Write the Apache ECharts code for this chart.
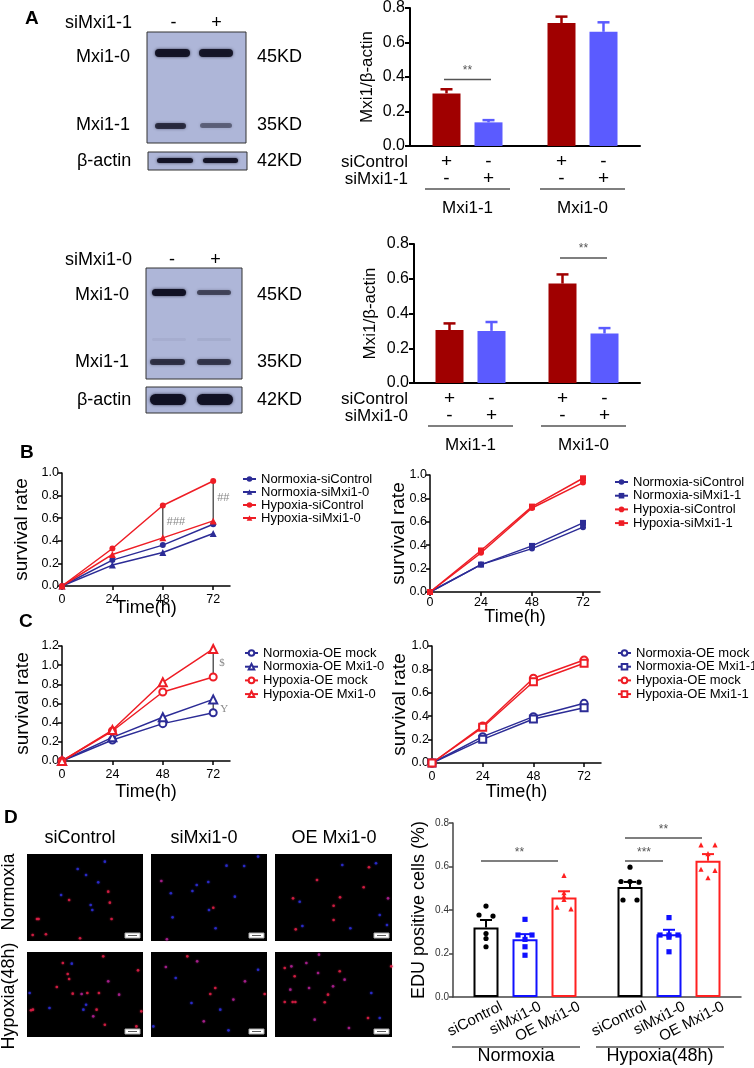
<!DOCTYPE html>
<html lang="en">
<head>
<meta charset="UTF-8">
<title>Mxi1 knockdown / overexpression</title>
<script src="https://cdn.jsdelivr.net/npm/echarts@6/dist/echarts.min.js"></script>
<style>
  html, body { margin: 0; padding: 0; background: #fff; }
  #main { width: 754px; height: 1068px; }
</style>
</head>
<body>
<div id="main"></div>
<script>
// ---------- data ----------
// A: western blot quantification, Mxi1/β-actin (mean and SEM)
var wbGroups = ['Mxi1-1', 'Mxi1-0'];
var wb1Control = [0.305, 0.713];
var wb1ControlSem = [0.024, 0.037];
var wb1Si = [0.137, 0.662];
var wb1SiSem = [0.013, 0.055];
var wb2Control = [0.305, 0.572];
var wb2ControlSem = [0.038, 0.053];
var wb2Si = [0.300, 0.285];
var wb2SiSem = [0.051, 0.031];

// B / C: survival rate over time
var hours = [0, 24, 48, 72];
var bLeftNormCtrl = [0, 0.229, 0.362, 0.547];
var bLeftNormSi = [0, 0.185, 0.297, 0.465];
var bLeftHypCtrl = [0, 0.332, 0.712, 0.929];
var bLeftHypSi = [0, 0.279, 0.426, 0.576];
var bRightNormCtrl = [0, 0.234, 0.371, 0.554];
var bRightNormSi = [0, 0.234, 0.394, 0.591];
var bRightHypCtrl = [0, 0.335, 0.718, 0.935];
var bRightHypSi = [0, 0.355, 0.730, 0.972];
var cLeftNormMock = [0, 0.219, 0.390, 0.504];
var cLeftNormOE = [0, 0.247, 0.456, 0.643];
var cLeftHypMock = [0, 0.313, 0.720, 0.877];
var cLeftHypOE = [0, 0.323, 0.821, 1.169];
var cRightNormMock = [0, 0.225, 0.396, 0.510];
var cRightNormOE = [0, 0.202, 0.376, 0.473];
var cRightHypMock = [0, 0.316, 0.724, 0.880];
var cRightHypOE = [0, 0.305, 0.695, 0.852];

// D: EDU positive cells
var eduGroups = ['Normoxia', 'Hypoxia(48h)'];
var eduNames = ['siControl', 'siMxi1-0', 'OE Mxi1-0'];
var eduMeanSiControl = [0.320, 0.506];
var eduMeanSiMxi = [0.266, 0.288];
var eduMeanOE = [0.458, 0.626];
var eduSemSiControl = [0.034, 0.023];
var eduSemSiMxi = [0.023, 0.021];
var eduSemOE = [0.028, 0.031];
var eduPtsSiControl = [[0.418, 0.372, 0.377, 0.292, 0.269, 0.231], [0.597, 0.528, 0.531, 0.531, 0.446, 0.446]];
var eduPtsSiMxi = [[0.357, 0.285, 0.285, 0.265, 0.231, 0.192], [0.365, 0.285, 0.285, 0.285, 0.275, 0.208]];
var eduPtsOE = [[0.557, 0.477, 0.462, 0.446, 0.403, 0.411], [0.697, 0.697, 0.657, 0.580, 0.585, 0.546]];

// D: fluorescence field dots [x%, y%, kind] kind 0 red, 1 blue, 2 magenta
var fieldNormCtrl = [[8.6,74.7,0],[10,74.7,0],[36.3,52.9,0],[29.4,47.1,1],[70,43.3,0],[71.4,55.9,0],[56.3,64.4,1],[54.9,58.6,1],[61.4,32.6,1],[72.9,74.7,0],[45.7,96.9,0],[16.3,92.3,0],[4.9,93.1,0],[67.1,8.8,1],[43.7,17.2,1],[50.9,24.1,1]];
var fieldNormSi = [[8.9,31,2],[17.1,45.2,1],[18.6,72.8,1],[35.7,42.5,1],[49.4,32.2,1],[53.7,61.7,0],[50,64.4,1],[55.7,85.4,1],[72.3,49,1],[80.3,13.8,1],[92.3,3,1],[13.7,98,2],[65.1,13.4,1],[39.4,35.6,1]];
var fieldNormOE = [[57.5,12.6,1],[80.3,15.3,0],[35.9,29.9,0],[96.6,51,2],[50.1,59.4,0],[55.6,49.8,0],[75.8,38.3,0],[15.4,51,0],[21.1,54.8,1],[17.7,86.6,0],[23.4,82.8,1],[50.1,75.9,0],[64.4,85.4,1],[89.5,70.1,1],[95.7,81.6,1],[86.3,10.7,1]];
var fieldHypCtrl = [[30.9,12.9,0],[38.6,13.7,1],[35.1,25.9,0],[36.3,31.8,0],[25.7,41.2,0],[47.1,49.4,2],[52,48.2,0],[39.4,49,0],[62,48.2,0],[70,34.5,2],[65.7,5.1,0],[95.7,21.6,0],[79.4,50.2,2],[2.3,48.2,1],[3.4,68.6,0],[5.1,67.8,0],[19.4,65.9,1],[48.6,67.8,1],[60,67.8,0],[67.1,85.5,0],[94.3,87.5,0],[98.6,69.8,0],[57.1,75.7,2],[50.9,62,1]];
var fieldHypSi = [[12.8,17.6,2],[31.3,5.1,0],[39.8,11,2],[21.3,30.6,1],[51.1,49.4,0],[55.4,42.4,0],[34.9,60,1],[59.7,67.8,1],[66.8,92.2,1],[81,34.5,2],[98,49.4,0],[92.3,20.8,1],[2,87.5,1],[71,56,2],[45.5,81.6,2]];
var fieldHypOE = [[8.3,18.8,0],[14,16.9,2],[16.8,28.6,0],[13.1,44.3,2],[8.3,58.8,0],[15.1,58.8,0],[17.4,58.8,0],[29.1,42.4,2],[26.8,12.9,2],[36.8,24.7,2],[55.3,22.7,0],[59.5,32.5,2],[42.5,59.2,0],[45.3,50.2,0],[49.6,40.4,2],[79.5,77.6,0],[63.2,89.4,2],[33.9,79.6,2],[99.4,16.9,0],[82.3,48.2,1],[89.5,77.6,1],[37.6,3.1,2]];

// ---------- styles ----------
var FONT = '"Liberation Sans", Arial, Helvetica, sans-serif';
var SERIF = '"Liberation Serif", "DejaVu Serif", serif';
var BLUE = '#2c2c96';
var RED = '#ee1d25';
var WB_RED = '#a00000';
var WB_BLUE = '#5b5bff';
var EDU_COLORS = ['#000000', '#1010ff', '#ff2020'];
var DOT_COLORS = ['#e8204a', '#3030e0', '#b8229a'];

var grids = [], xAxes = [], yAxes = [], series = [], legends = [];

function addGrid(box) {
  grids.push(Object.assign({ containLabel: false }, box));
  return grids.length - 1;
}

// error bar drawn upward from the mean, shifted to its bar
function errSeries(gi, means, sems, offset, color, cap, lw) {
  return {
    type: 'custom', xAxisIndex: gi, yAxisIndex: gi, z: 4, silent: true,
    data: means.map(function (m, i) { return [i, m, m + sems[i]]; }),
    encode: { x: 0, y: [1, 2] },
    renderItem: function (params, api) {
      var base = api.coord([api.value(0), api.value(1)]);
      var top = api.coord([api.value(0), api.value(2)]);
      var x = base[0] + offset;
      return {
        type: 'group', children: [
          { type: 'line', shape: { x1: x, y1: base[1], x2: x, y2: top[1] }, style: { stroke: color, lineWidth: lw } },
          { type: 'line', shape: { x1: x - cap, y1: top[1], x2: x + cap, y2: top[1] }, style: { stroke: color, lineWidth: lw } }
        ]
      };
    }
  };
}

function wbChart(box, ctrl, ctrlSem, si, siSem, nameGap) {
  var gi = addGrid(box);
  xAxes.push({
    gridIndex: gi, type: 'category', data: wbGroups,
    axisLine: { lineStyle: { color: '#000', width: 2 } },
    axisTick: { show: false }, axisLabel: { show: false }
  });
  yAxes.push({
    gridIndex: gi, type: 'value', min: 0, max: 0.8, interval: 0.2,
    name: 'Mxi1/β-actin', nameLocation: 'middle', nameGap: nameGap, nameMoveOverlap: false,
    nameTextStyle: { fontSize: 17, color: '#000' },
    axisLine: { show: true, lineStyle: { color: '#000', width: 2 } },
    axisTick: { show: true, length: 5, lineStyle: { color: '#000', width: 2 } },
    axisLabel: { fontSize: 16, color: '#000', margin: 5, formatter: function (v) { return v.toFixed(1); } },
    splitLine: { show: false }
  });
  series.push({ type: 'bar', xAxisIndex: gi, yAxisIndex: gi, data: ctrl, barWidth: 28, barGap: '50%', itemStyle: { color: WB_RED } });
  series.push({ type: 'bar', xAxisIndex: gi, yAxisIndex: gi, data: si, barWidth: 28, barGap: '50%', itemStyle: { color: WB_BLUE } });
  series.push(errSeries(gi, ctrl, ctrlSem, -21, WB_RED, 6, 2.5));
  series.push(errSeries(gi, si, siSem, 21, WB_BLUE, 6, 2.5));
  return gi;
}

function survivalChart(box, yMax, gapY, gapX, labelMargin, defs, legendPos) {
  var gi = addGrid(box);
  xAxes.push({
    gridIndex: gi, type: 'value', min: 0, max: 80,
    name: 'Time(h)', nameLocation: 'middle', nameGap: gapX, nameMoveOverlap: false,
    nameTextStyle: { fontSize: 18, color: '#000' },
    axisLine: { lineStyle: { color: '#000', width: 1.5 } },
    axisTick: { show: true, customValues: hours, length: 4, lineStyle: { color: '#000', width: 1.5 } },
    axisLabel: { customValues: hours, fontSize: 12.5, color: '#000', margin: labelMargin },
    splitLine: { show: false }
  });
  yAxes.push({
    gridIndex: gi, type: 'value', min: 0, max: yMax, interval: 0.2,
    name: 'survival rate', nameLocation: 'middle', nameGap: gapY, nameMoveOverlap: false,
    nameTextStyle: { fontSize: 19, color: '#000' },
    axisLine: { show: true, lineStyle: { color: '#000', width: 1.5 } },
    axisTick: { show: true, length: 4, lineStyle: { color: '#000', width: 1.5 } },
    axisLabel: { fontSize: 12.5, color: '#000', margin: 3, formatter: function (v) { return v.toFixed(1); } },
    splitLine: { show: false }
  });
  defs.forEach(function (d) {
    series.push({
      type: 'line', name: d.name, xAxisIndex: gi, yAxisIndex: gi,
      data: hours.map(function (h, i) { return [h, d.values[i]]; }),
      symbol: d.symbol, symbolSize: d.size, color: d.color,
      lineStyle: { width: 1.5, color: d.color },
      itemStyle: { color: d.color, borderWidth: 1.5 }
    });
  });
  legends.push({
    orient: 'vertical', left: legendPos[0], top: legendPos[1], padding: 0,
    itemGap: legendPos[2], itemWidth: 13, itemHeight: 7, selectedMode: false,
    textStyle: { fontSize: 13, color: '#000', lineHeight: 13, fontFamily: FONT },
    data: defs.map(function (d) { return d.name; })
  });
  return gi;
}

// simple swarm: points with (nearly) equal values sit side by side
function swarmOffsets(vals) {
  var order = vals.map(function (v, i) { return i; }).sort(function (a, b) { return vals[b] - vals[a]; });
  var off = vals.map(function () { return 0; });
  var i = 0;
  while (i < order.length) {
    var j = i;
    while (j + 1 < order.length && vals[order[i]] - vals[order[j + 1]] < 0.009) j++;
    var n = j - i + 1, step = n === 2 ? 14 : 9;
    for (var k = i; k <= j; k++) off[order[k]] = (k - i - (n - 1) / 2) * step;
    i = j + 1;
  }
  return off;
}

// ---------- A ----------
var gA1 = wbChart({ left: 410, top: 7, width: 230, height: 139 }, wb1Control, wb1ControlSem, wb1Si, wb1SiSem, 34);
var gA2 = wbChart({ left: 414, top: 244, width: 226, height: 139 }, wb2Control, wb2ControlSem, wb2Si, wb2SiSem, 35);

// ---------- B ----------
var gB1 = survivalChart({ left: 62, top: 473, width: 168, height: 113 }, 1.0, 31, 13, 7, [
  { name: 'Normoxia-siControl', values: bLeftNormCtrl, symbol: 'circle', size: 6, color: BLUE },
  { name: 'Normoxia-siMxi1-0', values: bLeftNormSi, symbol: 'triangle', size: 7, color: BLUE },
  { name: 'Hypoxia-siControl', values: bLeftHypCtrl, symbol: 'circle', size: 6, color: RED },
  { name: 'Hypoxia-siMxi1-0', values: bLeftHypSi, symbol: 'triangle', size: 7, color: RED }
], [242, 472.5, 0]);
var gB2 = survivalChart({ left: 430, top: 475, width: 170, height: 117 }, 1.0, 22, 16, 4, [
  { name: 'Normoxia-siControl', values: bRightNormCtrl, symbol: 'circle', size: 6, color: BLUE },
  { name: 'Normoxia-siMxi1-1', values: bRightNormSi, symbol: 'rect', size: 6, color: BLUE },
  { name: 'Hypoxia-siControl', values: bRightHypCtrl, symbol: 'circle', size: 6, color: RED },
  { name: 'Hypoxia-siMxi1-1', values: bRightHypSi, symbol: 'rect', size: 6, color: RED }
], [614, 475.5, 0.7]);

// ---------- C ----------
var gC1 = survivalChart({ left: 62, top: 646, width: 168, height: 115 }, 1.2, 30, 22, 7, [
  { name: 'Normoxia-OE mock', values: cLeftNormMock, symbol: 'emptyCircle', size: 7, color: BLUE },
  { name: 'Normoxia-OE Mxi1-0', values: cLeftNormOE, symbol: 'emptyTriangle', size: 8, color: BLUE },
  { name: 'Hypoxia-OE mock', values: cLeftHypMock, symbol: 'emptyCircle', size: 7, color: RED },
  { name: 'Hypoxia-OE Mxi1-0', values: cLeftHypOE, symbol: 'emptyTriangle', size: 8, color: RED }
], [244, 646.5, 0.7]);
var gC2 = survivalChart({ left: 432, top: 646, width: 169, height: 117 }, 1.0, 23, 20, 7, [
  { name: 'Normoxia-OE mock', values: cRightNormMock, symbol: 'emptyCircle', size: 7, color: BLUE },
  { name: 'Normoxia-OE Mxi1-1', values: cRightNormOE, symbol: 'emptyRect', size: 7, color: BLUE },
  { name: 'Hypoxia-OE mock', values: cRightHypMock, symbol: 'emptyCircle', size: 7, color: RED },
  { name: 'Hypoxia-OE Mxi1-1', values: cRightHypOE, symbol: 'emptyRect', size: 7, color: RED }
], [617, 646.5, 0.7]);

// ---------- D bar + dots ----------
var gD = addGrid({ left: 453, top: 823, width: 288, height: 174 });
xAxes.push({
  gridIndex: gD, type: 'category', data: eduGroups,
  axisLine: { lineStyle: { color: '#444', width: 1.5 } },
  axisTick: { show: false }, axisLabel: { show: false }
});
yAxes.push({
  gridIndex: gD, type: 'value', min: 0, max: 0.8, interval: 0.2,
  name: 'EDU positive cells (%)', nameLocation: 'middle', nameGap: 25, nameMoveOverlap: false,
  nameTextStyle: { fontSize: 18, color: '#000' },
  axisLine: { show: true, lineStyle: { color: '#444', width: 1.5 } },
  axisTick: { show: true, length: 4, lineStyle: { color: '#444', width: 1.5 } },
  axisLabel: { fontSize: 10, color: '#333', margin: 4, formatter: function (v) { return v.toFixed(1); } },
  splitLine: { show: false }
});
var eduMeans = [eduMeanSiControl, eduMeanSiMxi, eduMeanOE];
var eduSems = [eduSemSiControl, eduSemSiMxi, eduSemOE];
var eduPts = [eduPtsSiControl, eduPtsSiMxi, eduPtsOE];
var EDU_STEP = 39; // bar width 25 + gap 14
eduMeans.forEach(function (m, s) {
  series.push({
    type: 'bar', name: eduNames[s], xAxisIndex: gD, yAxisIndex: gD, data: m,
    barWidth: 25, barGap: '56%',
    itemStyle: { color: '#fff', borderColor: EDU_COLORS[s], borderWidth: 2 }
  });
});
eduPts.forEach(function (groups, s) {
  var data = [];
  groups.forEach(function (vals, c) {
    var off = swarmOffsets(vals);
    vals.forEach(function (v, k) { data.push([c, v, off[k]]); });
  });
  series.push({
    type: 'custom', xAxisIndex: gD, yAxisIndex: gD, z: 5, silent: true,
    data: data, encode: { x: 0, y: 1 },
    renderItem: function (params, api) {
      var p = api.coord([api.value(0), api.value(1)]);
      var x = p[0] + (s - 1) * EDU_STEP + api.value(2);
      var r = 2.6;
      if (s === 0) return { type: 'circle', shape: { cx: x, cy: p[1], r: r }, style: { fill: EDU_COLORS[s] } };
      if (s === 1) return { type: 'rect', shape: { x: x - r, y: p[1] - r, width: 2 * r, height: 2 * r }, style: { fill: EDU_COLORS[s] } };
      return { type: 'polygon', shape: { points: [[x, p[1] - r - 0.5], [x - r, p[1] + r - 0.5], [x + r, p[1] + r - 0.5]] }, style: { fill: EDU_COLORS[s] } };
    }
  });
  series.push(errSeries(gD, eduMeans[s], eduSems[s], (s - 1) * EDU_STEP, EDU_COLORS[s], 6, 2));
});

// ---------- D fluorescence fields ----------
var fieldCols = [[27, 116], [151, 116], [275, 117]];
var fieldRows = [[854, 87], [952, 85]];
var fields = [[fieldNormCtrl, fieldNormSi, fieldNormOE], [fieldHypCtrl, fieldHypSi, fieldHypOE]];
fields.forEach(function (row, r) {
  row.forEach(function (dots, c) {
    var gi = addGrid({ left: fieldCols[c][0], top: fieldRows[r][0], width: fieldCols[c][1], height: fieldRows[r][1], show: true, backgroundColor: '#000', borderWidth: 0 });
    xAxes.push({ gridIndex: gi, type: 'value', min: 0, max: 100, show: false });
    yAxes.push({ gridIndex: gi, type: 'value', min: 0, max: 100, inverse: true, show: false });
    series.push({
      type: 'scatter', xAxisIndex: gi, yAxisIndex: gi, symbolSize: 2.6, silent: true,
      data: dots.map(function (d) {
        return { value: [d[0], d[1]], itemStyle: { color: DOT_COLORS[d[2]], shadowBlur: 2, shadowColor: DOT_COLORS[d[2]] } };
      })
    });
  });
});

var option = {
  animation: false,
  textStyle: { fontFamily: FONT },
  grid: grids, xAxis: xAxes, yAxis: yAxes, legend: legends, series: series
};

var chart = echarts.init(document.getElementById('main'));
chart.setOption(option);

// ---------- annotations placed through the axes ----------
var g = [];
function px(gi, x, y) { return chart.convertToPixel({ xAxisIndex: gi, yAxisIndex: gi }, [x, y]); }
function txt(x, y, s, o, extra) {
  g.push(Object.assign({
    type: 'text', x: x, y: y, silent: true,
    style: Object.assign({ text: s, fill: '#000', fontSize: 18, fontFamily: FONT, align: 'left', verticalAlign: 'middle' }, o || {})
  }, extra || {}));
}
function seg(x1, y1, x2, y2, color, w) {
  g.push({ type: 'line', silent: true, shape: { x1: x1, y1: y1, x2: x2, y2: y2 }, style: { stroke: color, lineWidth: w } });
}
function box(x, y, w, h, fill, stroke) {
  g.push({ type: 'rect', silent: true, shape: { x: x, y: y, width: w, height: h }, style: { fill: fill, stroke: stroke || null, lineWidth: 1 } });
}
function band(x, y, w, h, alpha) {
  g.push({ type: 'rect', silent: true, shape: { x: x, y: y, width: w, height: h, r: h / 2 },
    style: { fill: 'rgba(16,16,34,' + alpha + ')', shadowBlur: 3, shadowColor: 'rgba(16,16,34,' + alpha * 0.8 + ')' } });
}

// panel letters
[['A', 25, 19], ['B', 20, 453], ['C', 19, 622], ['D', 4, 818]].forEach(function (l) {
  txt(l[1], l[2], l[0], { fontSize: 19, fontWeight: 'bold' });
});

// western blots
var BLOT = '#aeb6d8';
txt(65, 23, 'siMxi1-1');
txt(173.5, 23, '-', { align: 'center' });
txt(216.5, 23, '+', { align: 'center' });
box(147, 32, 99, 111, BLOT, '#333');
band(155, 49, 35, 8, 0.95); band(199, 49, 34, 8, 0.92);
band(155, 123, 31, 6, 0.75); band(200, 123, 32, 5, 0.45);
box(148, 152, 99, 18, BLOT, '#333');
band(157, 158, 36, 5, 0.95); band(203, 158, 35, 5, 0.95);
txt(76, 57, 'Mxi1-0'); txt(76, 125, 'Mxi1-1'); txt(77, 161, 'β-actin');
txt(257, 57, '45KD'); txt(257, 125, '35KD'); txt(257, 161, '42KD');

txt(65, 260, 'siMxi1-0');
txt(172, 260, '-', { align: 'center' });
txt(215.5, 260, '+', { align: 'center' });
box(146, 268, 96, 111, BLOT, '#333');
band(152, 289, 34, 7, 0.97); band(197, 290, 34, 5, 0.6);
band(152, 338, 34, 3, 0.05); band(197, 338, 34, 3, 0.06);
band(150, 359, 35, 6, 0.72); band(197, 359, 34, 6, 0.68);
box(146, 387, 96, 26, BLOT, '#333');
band(150, 394, 36, 11, 0.97); band(197, 394, 36, 11, 0.97);
txt(75, 295, 'Mxi1-0'); txt(75, 362, 'Mxi1-1'); txt(77, 400, 'β-actin');
txt(257, 295, '45KD'); txt(257, 362, '35KD'); txt(257, 400, '42KD');

// A bar chart condition rows
[[gA1, 'siMxi1-1'], [gA2, 'siMxi1-0']].forEach(function (a) {
  var gi = a[0];
  var y0 = px(gi, 0, 0)[1];
  txt(408, y0 + 16, 'siControl', { fontSize: 17, align: 'right' });
  txt(408, y0 + 33, a[1], { fontSize: 17, align: 'right' });
  wbGroups.forEach(function (name, c) {
    var cx = px(gi, c, 0)[0];
    txt(cx - 21, y0 + 16, '+', { fontSize: 19, align: 'center' });
    txt(cx + 21, y0 + 16, '-', { fontSize: 19, align: 'center' });
    txt(cx - 21, y0 + 33, '-', { fontSize: 19, align: 'center' });
    txt(cx + 21, y0 + 33, '+', { fontSize: 19, align: 'center' });
    seg(cx - 42.5, y0 + 43, cx + 42.5, y0 + 43, '#000', 1.2);
    txt(cx, y0 + 62, name, { fontSize: 17, align: 'center' });
  });
});
// A significance
(function () {
  var a = px(gA1, 0, 0.386), s = px(gA1, 0, 0.437);
  seg(a[0] - 23.5, a[1], a[0] + 23.5, a[1], '#555', 1.5);
  txt(a[0], s[1], '**', { fontSize: 12, fill: '#555', align: 'center' });
  var b = px(gA2, 1, 0.719), t = px(gA2, 1, 0.771);
  seg(b[0] - 23.5, b[1], b[0] + 23.5, b[1], '#555', 1.5);
  txt(b[0], t[1], '**', { fontSize: 12, fill: '#555', align: 'center' });
})();

// B / C significance brackets
function vbar(gi, x, lo, hi, label, font, dx, dy) {
  var p1 = px(gi, x, lo), p2 = px(gi, x, hi);
  seg(p1[0], p1[1], p2[0], p2[1], '#333', 1.2);
  txt(p1[0] + dx, (p1[1] + p2[1]) / 2 + dy, label, { fontSize: 11, fill: '#888', fontFamily: font });
}
vbar(gB1, 48, bLeftHypSi[2], bLeftHypCtrl[2], '###', FONT, 4, 0);
vbar(gB1, 72, bLeftHypSi[3], bLeftHypCtrl[3], '##', FONT, 4, -3);
vbar(gC1, 72, cLeftHypMock[3], cLeftHypOE[3], '$', SERIF, 6, 0);
vbar(gC1, 72, cLeftNormMock[3], cLeftNormOE[3], 'Y', SERIF, 7, 3);

// D column / row titles
txt(80, 838, 'siControl', { align: 'center' });
txt(204, 838, 'siMxi1-0', { align: 'center' });
txt(334, 838, 'OE Mxi1-0', { align: 'center' });
txt(9.5, 892, 'Normoxia', { align: 'center' }, { rotation: Math.PI / 2 });
txt(9.5, 996, 'Hypoxia(48h)', { align: 'center' }, { rotation: Math.PI / 2 });
// scale bars in the fields
fieldRows.forEach(function (r) {
  fieldCols.forEach(function (c) {
    var bx = c[0] + c[1] - 18, by = r[0] + r[1] - 8;
    box(bx, by, 15, 5, '#fff', '#aaa');
    seg(bx + 3, by + 2.5, bx + 12, by + 2.5, '#333', 0.8);
  });
});

// D bar chart labels and brackets
(function () {
  var y0 = px(gD, 0, 0)[1];
  var rot = 27 * Math.PI / 180;
  eduGroups.forEach(function (name, c) {
    var cx = px(gD, c, 0)[0];
    eduNames.forEach(function (n, s) {
      txt(cx + (s - 1) * EDU_STEP + 12, y0 + 2, n, { fontSize: 15, align: 'right', verticalAlign: 'top' }, { rotation: rot });
    });
    seg(cx - 73, 1047, cx + 55, 1047, '#000', 1.2);
    txt(cx - 9, 1056, name, { align: 'center' });
  });
  function bracket(c, s1, s2, v, label) {
    var p = px(gD, c, v), t = px(gD, c, v + 0.037);
    var x1 = p[0] + (s1 - 1) * EDU_STEP - 5, x2 = p[0] + (s2 - 1) * EDU_STEP - 6;
    seg(x1, p[1], x2, p[1], '#555', 1.5);
    txt((x1 + x2) / 2, t[1], label, { fontSize: 12, fill: '#555', align: 'center' });
  }
  bracket(0, 0, 2, 0.625, '**');
  bracket(1, 0, 1, 0.625, '***');
  bracket(1, 0, 2, 0.731, '**');
})();

chart.setOption({ graphic: { elements: g } });
</script>
</body>
</html>
